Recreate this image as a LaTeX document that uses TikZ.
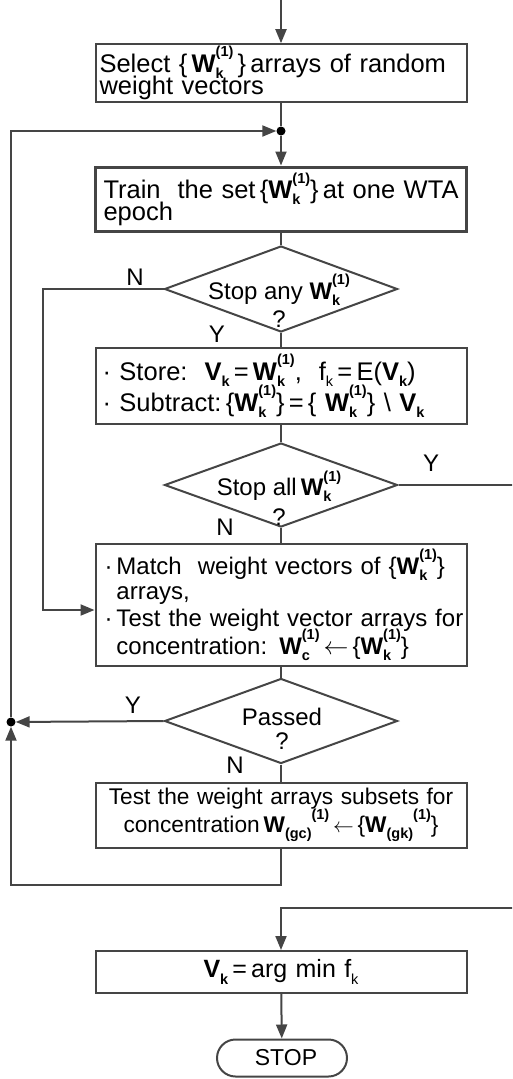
\documentclass[tikz,border=0pt]{standalone}
\usepackage{amsmath}
\usepackage{fontspec}
\setmainfont{Liberation Sans}
\usepackage{tikz}
\usetikzlibrary{arrows.meta,shapes.geometric,shapes.misc}
\definecolor{linegray}{HTML}{454545}
\newcommand{\chartfont}[2]{\fontsize{#1}{#2}\selectfont\lineskiplimit-100pt\relax}
\newcommand{\scrsz}{\fontsize{14.5pt}{14.5pt}\selectfont}
\newcommand{\lowsub}[1]{\raisebox{-0.25em}{\scrsz #1}}
\newcommand{\highsup}[1]{\raisebox{0.6em}{\scrsz\bfseries #1}}
\newcommand{\subsup}[2]{\rlap{\lowsub{\bfseries #1}}\highsup{#2}}
\newcommand{\Wk}{\textbf{W}\subsup{k}{(1)}}
\newcommand{\Vk}{\textbf{V}\lowsub{\bfseries k}}
\newcommand{\bul}{\textperiodcentered}
\tikzset{
	chart/.style={font=\chartfont{24pt}{22.5pt}},
	box/.style={chart,draw=linegray,line width=2pt,rectangle,minimum width=371pt,text width=366pt,inner xsep=2.5pt,inner ysep=2pt,align=left},
	decision/.style={draw=linegray,line width=2pt,diamond,minimum width=233pt,minimum height=86pt,inner sep=0pt},
	qtext/.style={chart,align=center,inner sep=0pt},
	terminal/.style={chart,draw=linegray,line width=2pt,rounded rectangle,minimum width=130pt,minimum height=37pt,inner sep=0pt},
	dot/.style={circle,fill=black,inner sep=0pt,minimum size=9pt},
	yn/.style={chart,inner sep=0pt},
	flow/.style={draw=linegray,line width=2pt},
	arrow/.style={flow,-{Triangle[length=14pt,width=11pt]}}
}
\begin{document}
\begin{tikzpicture}[x=1pt,y=-1pt]
		\useasboundingbox (0,0) rectangle (512,1079);
		\clip (0,0) rectangle (512,1079);
		\node[box,font=\chartfont{25.5pt}{22.5pt}] (select) at (281,73) {\hspace{1.5pt}Select \{\,\Wk\,\}\,arrays of random\\\hspace{1.5pt}weight vectors};
		\node[box,line width=3pt,minimum height=64pt,font=\chartfont{25.5pt}{21.5pt}] (train) at (281,199) {\hspace{5.5pt}Train\ \ the set\,\{\Wk\}\,at one WTA\\\hspace{5.5pt}epoch};
		\node[decision] (stopany) at (281,289) {};
		\node[qtext] (stopanytxt) at (279,301) {Stop any \Wk\\[6pt]?};
		\node[box,minimum height=76pt,font=\chartfont{25.5pt}{22.5pt}] (store) at (281,386) {\hspace{4.5pt}\bul\ Store:\ \ \Vk\,=\,\Wk,\ \ f\lowsub{k}\,=\,E(\Vk)\\[8.5pt]\hspace{4.5pt}\bul\ Subtract:\,\{\Wk\}\,=\,\{ \Wk\} \textbackslash\ \Vk};
		\node[decision,minimum height=84pt] (stopall) at (281,485) {};
		\node[qtext] (stopalltxt) at (279,498) {Stop all\,\Wk\\[7pt]?};
		\node[box,minimum height=122pt] (match) at (281,605) {\hspace{6.5pt}\bul\,Match\ \ weight vectors of \{\Wk\}\\[2.5pt]\hspace{6.5pt}\phantom{\bul\,}arrays,\\[4.5pt]\hspace{6.5pt}\bul\,Test the weight vector arrays for\\[5.5pt]\hspace{6.5pt}\phantom{\bul\,}concentration: \textbf{W}\subsup{c}{(1)}\,$\leftarrow$\,\{\Wk\}};
		\node[decision,minimum height=85pt] (passed) at (281,721) {};
		\node[qtext] (passedtxt) at (282,729) {Passed\\[2pt]?};
		\node[box,align=center,minimum height=65pt,font=\chartfont{22.7pt}{22.5pt}] (subsets) at (281,815) {Test the weight arrays subsets for\\[5.5pt]concentration\,\textbf{W}\lowsub{\bfseries(gc)}\highsup{(1)}\,$\leftarrow$\,\{\textbf{W}\lowsub{\bfseries(gk)}\highsup{(1)}\}};
		\node[box,align=center,minimum height=42pt,font=\chartfont{25pt}{22.5pt}] (vk) at (281,972) {\Vk\,=\,arg min f\lowsub{k}};
		\node[terminal,font=\chartfont{23pt}{23pt}] (stop) at (282,1058) {\hspace{8pt}STOP};
		\node[dot] (topjoin) at (281,131) {};
		\node[dot] (leftjoin) at (11,722) {};
		\node[yn] (nany) at (135,277) {N};
		\node[yn] (yany) at (217,334) {Y};
		\node[yn] (yall) at (431,463) {Y};
		\node[yn] (nall) at (225,527) {N};
		\node[yn] (ypassed) at (133,705) {Y};
		\node[yn] (npassed) at (235,765) {N};
		\coordinate (entry) at (281,0);
		\coordinate (nturn) at (43,289);
		\coordinate (yturn) at (540,485);
		\coordinate (vkturn) at (281,908);
		\coordinate (bturn) at (281,885);
		\draw[arrow] (entry) -- (select);
		\draw[flow] (select) -- (topjoin);
		\draw[arrow] (topjoin) -- (train);
		\draw[flow] (train) -- (stopany);
		\draw[arrow] (stopany.west) -- (nturn) |- ([yshift=-5pt]match.west);
		\draw[flow] (stopany) -- (store);
		\draw[flow] (store) -- (stopall);
		\draw[arrow] (stopall.east) -- (yturn) |- (vkturn) -- (vk);
		\draw[flow] (stopall) -- (match);
		\draw[flow] (match) -- (passed);
		\draw[arrow] (passed.west) -- (leftjoin);
		\draw[flow] (passed) -- (subsets);
		\draw[arrow] (subsets) -- (bturn) -| (leftjoin);
		\draw[arrow] (leftjoin) |- (topjoin);
		\draw[arrow] (vk) -- (stop);
	\end{tikzpicture}
\end{document}
